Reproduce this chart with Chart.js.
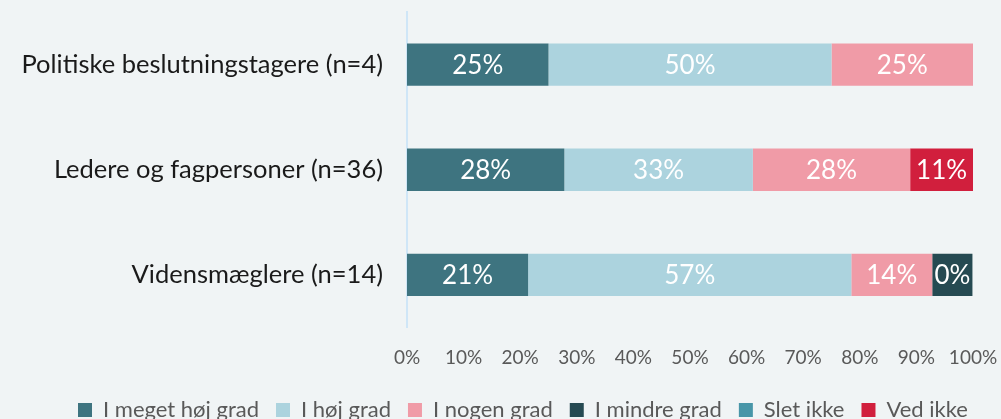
<!DOCTYPE html>
<html><head><meta charset="utf-8">
<script src="https://cdn.jsdelivr.net/npm/chart.js@4.4.0/dist/chart.umd.min.js"></script>
<style>
html,body{margin:0;padding:0;background:#f0f4f5;overflow:hidden;width:1001px;height:419px}
#c{display:block}
</style></head>
<body><canvas id="c" width="1001" height="431"></canvas>
<script>
const categories = ['Politiske beslutningstagere (n=4)', 'Ledere og fagpersoner (n=36)', 'Vidensmæglere (n=14)'];
const seriesNames = ['I meget høj grad', 'I høj grad', 'I nogen grad', 'I mindre grad', 'Slet ikke', 'Ved ikke'];
const megetHoj = [25, 27.8, 21.4];
const hoj = [50, 33.3, 57.1];
const nogen = [25, 27.8, 14.3];
const mindre = [0, 0, 7.1];
const sletIkke = [0, 0, 0];
const vedIkke = [0, 11.1, 0];
const megetHojLabels = ['25%', '28%', '21%'];
const hojLabels = ['50%', '33%', '57%'];
const nogenLabels = ['25%', '28%', '14%'];
const mindreLabels = ['', '', '0%'];
const sletIkkeLabels = ['', '', ''];
const vedIkkeLabels = ['', '11%', ''];
const tickValues = [0, 10, 20, 30, 40, 50, 60, 70, 80, 90, 100];
const colors = ['#3e7480', '#acd3de', '#f09ba7', '#264a52', '#4896a8', '#d11f3d'];

const seriesData = [megetHoj, hoj, nogen, mindre, sletIkke, vedIkke];
const seriesLabels = [megetHojLabels, hojLabels, nogenLabels, mindreLabels, sletIkkeLabels, vedIkkeLabels];

const FONT = 'Lato, "Open Sans", sans-serif';

const segLabels = {
  id: 'segLabels',
  afterDatasetsDraw(chart) {
    const ctx = chart.ctx;
    ctx.save();
    ctx.font = '26px ' + FONT;
    ctx.fillStyle = '#ffffff';
    ctx.textAlign = 'center';
    ctx.textBaseline = 'middle';
    chart.data.datasets.forEach((ds, i) => {
      const meta = chart.getDatasetMeta(i);
      meta.data.forEach((el, j) => {
        const t = ds.valueLabels[j];
        if (!t) return;
        const p = el.getProps(['x', 'base', 'y'], true);
        ctx.fillText(t, (p.x + p.base) / 2, p.y + 1);
      });
    });
    ctx.restore();
  }
};

const legendShift = {
  id: 'legendShift',
  afterLayout(chart) {
    const lg = chart.legend;
    if (!lg || !lg.lineWidths) return;
    const x0 = (lg.left + lg.options.labels.padding + lg.right - lg.lineWidths[0]) / 2;
    const d = 78 - x0;
    lg.left += d;
    lg.right += d;
  }
};

new Chart(document.getElementById('c'), {
  type: 'bar',
  data: {
    labels: categories,
    datasets: seriesNames.map((n, i) => ({
      label: n,
      data: seriesData[i],
      valueLabels: seriesLabels[i],
      backgroundColor: colors[i],
      borderWidth: 0,
      barPercentage: 0.805,
      categoryPercentage: 0.5
    }))
  },
  options: {
    indexAxis: 'y',
    responsive: false,
    animation: false,
    devicePixelRatio: 1,
    layout: { padding: { top: 12, right: 28, left: 0, bottom: 0 } },
    plugins: {
      tooltip: { enabled: false },
      legend: {
        position: 'bottom',
        labels: {
          boxWidth: 14, boxHeight: 14, padding: 17,
          color: '#595959',
          font: { family: FONT, size: 22 }
        }
      }
    },
    scales: {
      x: {
        stacked: true, min: 0, max: 100,
        grid: { display: false, drawTicks: false },
        border: { display: false },
        afterBuildTicks(scale) { scale.ticks = tickValues.map(v => ({ value: v })); },
        ticks: {
          padding: 19,
          maxRotation: 0,
          color: '#595959',
          font: { family: FONT, size: 19 },
          callback: v => v + '%'
        },
        afterFit(scale) { scale.height = 54.5; scale.paddingLeft = 0; scale.paddingRight = 0; }
      },
      y: {
        stacked: true,
        grid: { display: false, drawTicks: false },
        border: { display: true, color: '#cfe6f7', width: 2 },
        ticks: {
          padding: 24,
          color: '#1a1a1a',
          font: { family: FONT, size: 25.5 }
        },
        afterFit(scale) { scale.width = 407; scale.paddingTop = 0; scale.paddingBottom = 0; }
      }
    }
  },
  plugins: [segLabels, legendShift]
});
</script>
</body></html>
